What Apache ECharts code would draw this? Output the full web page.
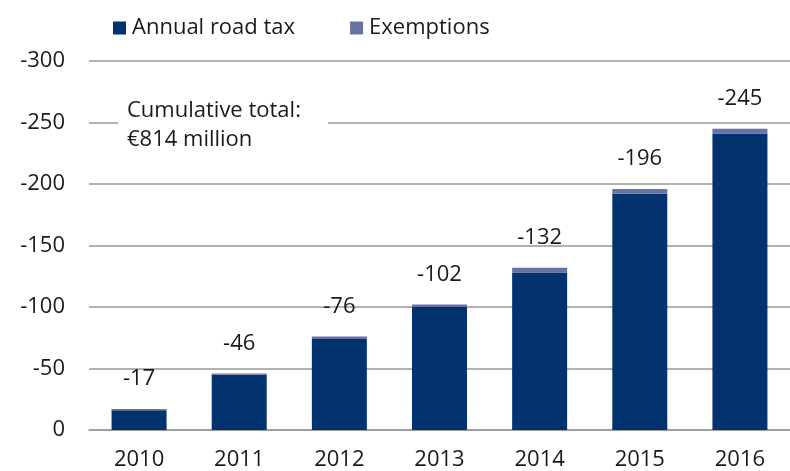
<!DOCTYPE html>
<html>
<head>
<meta charset="utf-8">
<script src="https://cdn.jsdelivr.net/npm/echarts@6/dist/echarts.min.js"></script>
<style>
  html, body { margin: 0; padding: 0; background: #fff; }
  #chart { width: 790px; height: 471px; }
</style>
</head>
<body>
<div id="chart"></div>
<script>
// data (million euro)
var years = ['2010', '2011', '2012', '2013', '2014', '2015', '2016'];
var roadTax = [-16, -45, -74, -100, -128, -192, -241];
var exemptions = [-1, -1, -2, -2, -4, -4, -4];
var yTicks = [-300, -250, -200, -150, -100, -50, 0];
var note = 'Cumulative total:\n€814 million';

var FONT = 'Open Sans';
var SIZE = 22;
var TEXT = '#1a1a1a';

var chart = echarts.init(document.getElementById('chart'));

var option = {
    animation: false,
    textStyle: { fontFamily: FONT },
    color: ['#03336e', '#6673a4'],
    legend: {
        left: 108,
        top: 12,
        icon: 'rect',
        itemWidth: 13,
        itemHeight: 13,
        itemGap: 55,
        textStyle: { fontFamily: FONT, fontSize: SIZE, color: TEXT, padding: [0, 0, 0, 1] },
        data: ['Annual road tax', 'Exemptions']
    },
    grid: {
        left: 89,
        top: 61,
        bottom: 41,
        width: 711
    },
    xAxis: {
        type: 'category',
        data: years,
        axisLine: { lineStyle: { color: '#999', width: 1.5 } },
        axisTick: { inside: true, length: 6, lineStyle: { color: '#999', width: 1.5 } },
        axisLabel: { fontFamily: FONT, fontSize: SIZE, color: TEXT, margin: 19 }
    },
    yAxis: {
        type: 'value',
        inverse: true,
        min: yTicks[0],
        max: yTicks[yTicks.length - 1],
        interval: 50,
        axisLine: { show: false },
        axisTick: { show: false },
        axisLabel: { fontFamily: FONT, fontSize: SIZE, color: TEXT, margin: 24 },
        splitLine: { lineStyle: { color: '#999', width: 1.5 } }
    },
    series: [
        {
            name: 'Annual road tax',
            type: 'bar',
            stack: 'total',
            barWidth: 55,
            data: roadTax
        },
        {
            name: 'Exemptions',
            type: 'bar',
            stack: 'total',
            barWidth: 55,
            data: exemptions,
            label: {
                show: true,
                position: 'top',
                distance: 19,
                fontFamily: FONT,
                fontSize: SIZE,
                color: TEXT,
                formatter: function (p) {
                    return String(roadTax[p.dataIndex] + exemptions[p.dataIndex]);
                }
            }
        }
    ],
    graphic: [
        {
            type: 'rect',
            left: 118,
            top: 98,
            shape: { width: 210, height: 56 },
            style: { fill: '#fff' },
            z: 10
        },
        {
            type: 'text',
            left: 127,
            top: 96,
            style: {
                text: note,
                font: SIZE + 'px "' + FONT + '"',
                lineHeight: 29,
                fill: TEXT
            },
            z: 11
        }
    ]
};

chart.setOption(option);
</script>
</body>
</html>
